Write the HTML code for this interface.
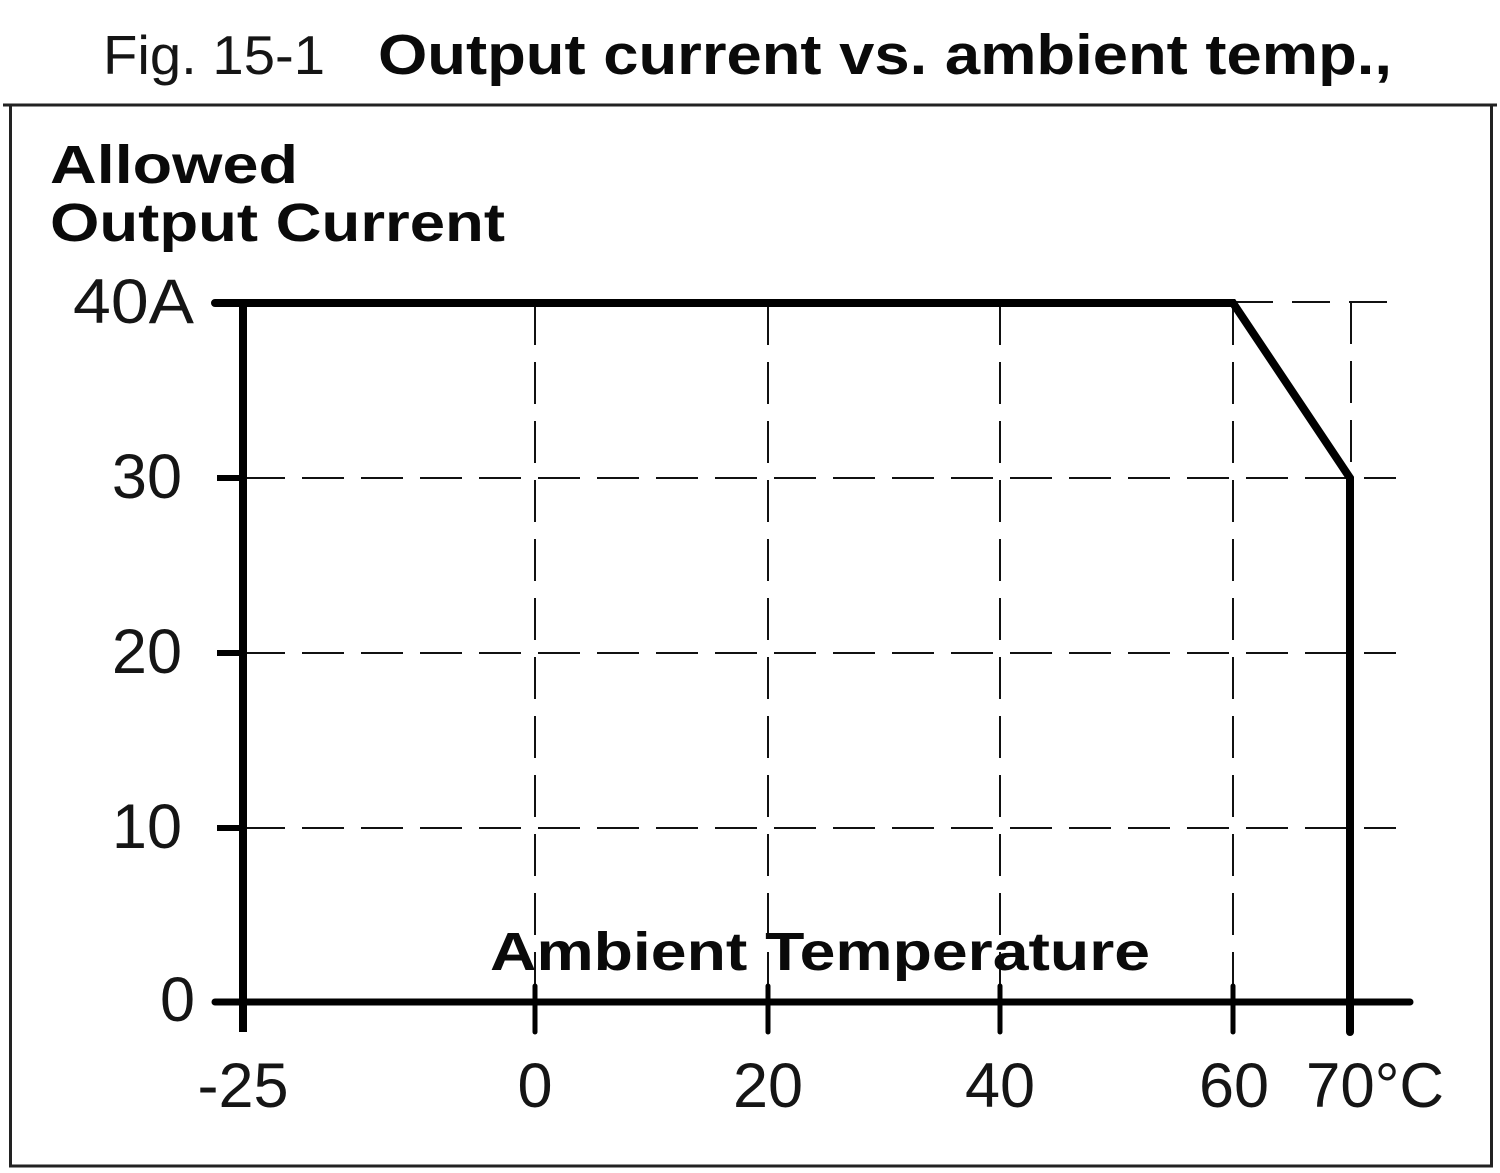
<!DOCTYPE html>
<html>
<head>
<meta charset="utf-8">
<style>
  html,body{margin:0;padding:0;background:#fff;}
  svg{display:block;}
  .reg{font-family:"Liberation Sans",sans-serif;fill:#151515;}
  .bold{font-family:"Liberation Sans",sans-serif;font-weight:bold;fill:#0a0a0a;}
</style>
</head>
<body>
<svg width="1500" height="1173" viewBox="0 0 1500 1173" xmlns="http://www.w3.org/2000/svg">
  <rect x="0" y="0" width="1500" height="1173" fill="#fff"/>

  <!-- Title -->
  <text class="reg" x="103" y="74" font-size="55" textLength="222" lengthAdjust="spacingAndGlyphs">Fig. 15-1</text>
  <text class="bold" x="378" y="74" font-size="57" textLength="1014" lengthAdjust="spacingAndGlyphs">Output current vs. ambient temp.,</text>

  <!-- Frame -->
  <line x1="3" y1="105" x2="1497" y2="105" stroke="#222" stroke-width="3"/>
  <line x1="10.5" y1="105" x2="10.5" y2="1167" stroke="#222" stroke-width="3"/>
  <line x1="1491.5" y1="105" x2="1491.5" y2="1167" stroke="#222" stroke-width="3"/>
  <line x1="9" y1="1166" x2="1493" y2="1166" stroke="#222" stroke-width="3"/>

  <!-- Y axis title -->
  <text class="bold" x="50" y="183" font-size="54" textLength="248" lengthAdjust="spacingAndGlyphs">Allowed</text>
  <text class="bold" x="50" y="241" font-size="54" textLength="455" lengthAdjust="spacingAndGlyphs">Output Current</text>

  <!-- Grid (dashed) -->
  <g stroke="#111" stroke-width="2" stroke-dasharray="42 17" fill="none">
    <line x1="243" y1="478" x2="1396" y2="478"/>
    <line x1="243" y1="653" x2="1396" y2="653"/>
    <line x1="243" y1="828" x2="1396" y2="828"/>
    <line x1="1235" y1="302" x2="1396" y2="302" stroke-dasharray="38 19"/>
    <line x1="535" y1="303" x2="535" y2="1000"/>
    <line x1="768" y1="303" x2="768" y2="1000"/>
    <line x1="1000" y1="303" x2="1000" y2="1000"/>
    <line x1="1233" y1="303" x2="1233" y2="1000"/>
    <line x1="1351" y1="302" x2="1351" y2="478"/>
  </g>

  <!-- Ambient Temperature label -->
  <text class="bold" x="490" y="970" font-size="54" textLength="660" lengthAdjust="spacingAndGlyphs">Ambient Temperature</text>

  <!-- Axes -->
  <g stroke="#000" stroke-linecap="round" fill="none">
    <line x1="243" y1="303" x2="243" y2="1032" stroke-width="8" stroke-linecap="butt"/>
    <line x1="215" y1="1002" x2="1410" y2="1002" stroke-width="7"/>
    <!-- y ticks -->
    <line x1="217" y1="478" x2="243" y2="478" stroke-width="6" stroke-linecap="butt"/>
    <line x1="217" y1="653" x2="243" y2="653" stroke-width="6" stroke-linecap="butt"/>
    <line x1="217" y1="828" x2="243" y2="828" stroke-width="6" stroke-linecap="butt"/>
    <!-- x ticks -->
    <line x1="535" y1="986" x2="535" y2="1032" stroke-width="5"/>
    <line x1="768" y1="986" x2="768" y2="1032" stroke-width="5"/>
    <line x1="1000" y1="986" x2="1000" y2="1032" stroke-width="5"/>
    <line x1="1233" y1="986" x2="1233" y2="1032" stroke-width="5"/>
  </g>

  <!-- Curve -->
  <polyline points="215,303 1233,303 1350,478 1350,1032" fill="none" stroke="#000" stroke-width="8" stroke-linejoin="miter" stroke-linecap="round"/>

  <!-- Y tick labels -->
  <g class="reg" font-size="63" text-anchor="end">
    <text x="194" y="323" textLength="121" lengthAdjust="spacingAndGlyphs">40A</text>
    <text x="182" y="498">30</text>
    <text x="182" y="673">20</text>
    <text x="182" y="848">10</text>
    <text x="195" y="1021">0</text>
  </g>

  <!-- X tick labels -->
  <g class="reg" font-size="63" text-anchor="middle">
    <text x="243" y="1107">-25</text>
    <text x="535" y="1107">0</text>
    <text x="768" y="1107">20</text>
    <text x="1000" y="1107">40</text>
    <text x="1234" y="1107">60</text>
  </g>
  <text class="reg" x="1306" y="1107" font-size="63" textLength="138" lengthAdjust="spacingAndGlyphs">70°C</text>
</svg>
</body>
</html>
